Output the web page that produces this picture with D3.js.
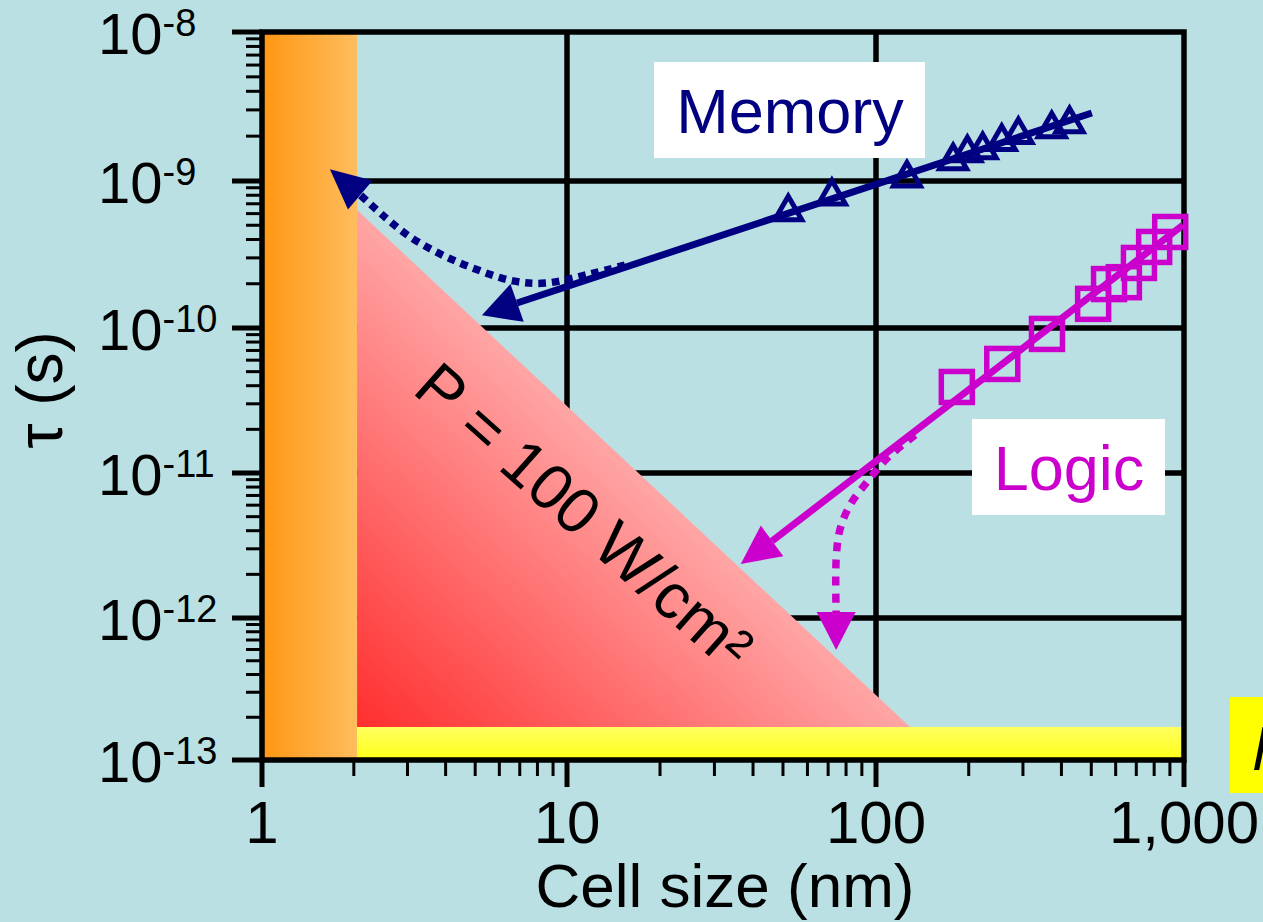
<!DOCTYPE html>
<html>
<head>
<meta charset="utf-8">
<script src="https://cdn.jsdelivr.net/npm/d3@7"></script>
<style>
  html, body { margin: 0; padding: 0; background: #bae0e3; overflow: hidden; }
  svg { display: block; }
  text { font-family: "Liberation Sans", Arial, sans-serif; }
</style>
</head>
<body>
<svg id="chart" width="1263" height="922"></svg>
<script>
// ---- Data: cell size (nm) versus switching time tau (s) ----
const memorySize = [52, 72, 126, 178, 198, 222, 256, 290, 372, 425];
const memoryTau  = [6.55e-10, 8.4e-10, 1.11e-9, 1.45e-9, 1.64e-9, 1.72e-9, 1.95e-9, 2.17e-9, 2.38e-9, 2.57e-9];

const logicSize = [183, 257, 359, 507, 571, 638, 714, 800, 902];
const logicTau  = [3.92e-11, 5.65e-11, 9.1e-11, 1.46e-10, 1.99e-10, 2.05e-10, 2.77e-10, 3.56e-10, 4.5e-10];

// Trend lines extrapolated downward (last two points: arrow base, arrow tip)
const memoryTrendSize = [502, 6.86, 5.26];
const memoryTrendTau  = [2.86e-9, 1.48e-10, 1.22e-10];
const logicTrendSize  = [993, 46.1, 36.5];
const logicTrendTau   = [5.02e-10, 3.4e-12, 2.36e-12];

// Alternative scaling paths (dotted)
const memoryPathSize = [15.4, 11.87, 8.47, 6.65, 4.81, 3.78, 3.06, 2.55, 2.10, 1.67];
const memoryPathTau  = [2.68e-10, 2.33e-10, 2.02e-10, 2.09e-10, 2.6e-10, 3.24e-10, 4.16e-10, 5.6e-10, 8.03e-10, 1.2e-9];
const logicPathSize  = [134, 109, 93.5, 82.4, 76.4, 74.3, 74.3, 74.3];
const logicPathTau   = [1.83e-11, 1.27e-11, 8.67e-12, 6.01e-12, 4.05e-12, 2.51e-12, 1.1e-12, 5.95e-13];

// Limits
const sizeLimitNm    = [1, 2.05];          // atomic size limit band
const thermalTau     = [1e-13, 1.71e-13];  // h/kT band
const powerLimitSize = [2.05, 129];        // P = 100 W/cm^2 edge
const powerLimitTau  = [6.35e-10, 1.71e-13];

// Axes
const xTickValues = [1, 10, 100, 1000];
const xTickLabels = ["1", "10", "100", "1,000"];
const yTickExponents = [-8, -9, -10, -11, -12, -13];

// ---- Scales ----
const X = d3.scaleLog().domain([1, 10, 100, 1000]).range([262, 567, 876, 1184]);
const Y = d3.scaleLog().domain([1e-13, 1e-12, 1e-11, 1e-10, 1e-9, 1e-8]).range([760, 618, 473, 328, 181, 32]);

const NAVY = "#000080", MAGENTA = "#cc00cc";
const svg = d3.select("#chart");

const defs = svg.append("defs");
const gOr = defs.append("linearGradient").attr("id", "gOrange").attr("x1", 0).attr("x2", 1).attr("y1", 0).attr("y2", 0);
gOr.append("stop").attr("offset", 0).attr("stop-color", "#ff9612");
gOr.append("stop").attr("offset", 1).attr("stop-color", "#ffbd5e");
const gYe = defs.append("linearGradient").attr("id", "gYellow").attr("x1", 0).attr("x2", 0).attr("y1", 0).attr("y2", 1);
gYe.append("stop").attr("offset", 0).attr("stop-color", "#ffff60");
gYe.append("stop").attr("offset", 1).attr("stop-color", "#ffff18");

svg.append("rect").attr("width", 1263).attr("height", 922).attr("fill", "#bae0e3");

const x0 = X(1), x1 = X(1000), y0 = Y(1e-13), y1 = Y(1e-8);

// Grid
const grid = svg.append("g").attr("stroke", "#000").attr("stroke-width", 5.5);
[1e-12, 1e-11, 1e-10, 1e-9].forEach(v =>
  grid.append("line").attr("x1", x0).attr("x2", x1).attr("y1", Y(v)).attr("y2", Y(v)));
[10, 100].forEach(v =>
  grid.append("line").attr("x1", X(v)).attr("x2", X(v)).attr("y1", y1).attr("y2", y0));

// Limit regions
svg.append("rect")
  .attr("x", X(sizeLimitNm[0])).attr("y", y1)
  .attr("width", X(sizeLimitNm[1]) - X(sizeLimitNm[0])).attr("height", y0 - y1)
  .attr("fill", "url(#gOrange)");

svg.append("rect")
  .attr("x", X(sizeLimitNm[1])).attr("y", Y(thermalTau[1]))
  .attr("width", x1 - X(sizeLimitNm[1])).attr("height", Y(thermalTau[0]) - Y(thermalTau[1]))
  .attr("fill", "url(#gYellow)");

const pA = [X(powerLimitSize[0]), Y(powerLimitTau[0])];
const pB = [X(powerLimitSize[1]), Y(powerLimitTau[1])];
const pC = [X(powerLimitSize[0]), Y(powerLimitTau[1])];
// gradient from the right-angle corner toward the hypotenuse
{
  const dx = pB[0] - pA[0], dy = pB[1] - pA[1], L = Math.hypot(dx, dy);
  const ux = dx / L, uy = dy / L;
  const t = (pC[0] - pA[0]) * ux + (pC[1] - pA[1]) * uy;
  const foot = [pA[0] + t * ux, pA[1] + t * uy];
  const gRed = defs.append("linearGradient").attr("id", "gRed").attr("gradientUnits", "userSpaceOnUse")
    .attr("x1", pC[0]).attr("y1", pC[1]).attr("x2", foot[0]).attr("y2", foot[1]);
  gRed.append("stop").attr("offset", 0).attr("stop-color", "#ff2e2e");
  gRed.append("stop").attr("offset", 1).attr("stop-color", "#ffa5a5");
}
svg.append("path").attr("d", d3.line()([pA, pB, pC])).attr("fill", "url(#gRed)");

// Power-density label along the hypotenuse
{
  const ang = Math.atan2(pB[1] - pA[1], pB[0] - pA[0]);
  const mx = (pA[0] + pB[0]) / 2, my = (pA[1] + pB[1]) / 2;
  const nx = -Math.sin(ang), ny = Math.cos(ang); // normal pointing into the triangle
  const off = 88;
  svg.append("text")
    .attr("transform", `translate(${mx + nx * off - 4},${my + ny * off})rotate(${ang * 180 / Math.PI - 1.5})`)
    .attr("text-anchor", "middle").attr("font-size", 64).attr("fill", "#000")
    .text("P = 100 W/cm\u00B2");
}

// Frame
svg.append("rect").attr("x", x0).attr("y", y1).attr("width", x1 - x0).attr("height", y0 - y1)
  .attr("fill", "none").attr("stroke", "#000").attr("stroke-width", 5.5);

// Y ticks
const ax = svg.append("g").attr("stroke", "#000");
for (let e = -13; e <= -8; e++) {
  ax.append("line").attr("x1", 232).attr("x2", x0).attr("y1", Y(10 ** e)).attr("y2", Y(10 ** e)).attr("stroke-width", 5);
  if (e < -8) for (let m = 2; m <= 9; m++) {
    const yy = Y(m * 10 ** e);
    ax.append("line").attr("x1", 246).attr("x2", x0).attr("y1", yy).attr("y2", yy).attr("stroke-width", 3);
  }
}
// X ticks
xTickValues.forEach((v, i) => {
  ax.append("line").attr("x1", X(v)).attr("x2", X(v)).attr("y1", y0).attr("y2", 787).attr("stroke-width", 5);
  if (i < xTickValues.length - 1) for (let m = 2; m <= 9; m++) {
    const xx = X(m * v);
    ax.append("line").attr("x1", xx).attr("x2", xx).attr("y1", y0).attr("y2", 776).attr("stroke-width", 3);
  }
});

// Tick labels
yTickExponents.forEach(e => {
  const t = svg.append("text").attr("x", 98).attr("y", Y(10 ** e) + 22).attr("font-size", 58).attr("fill", "#000");
  t.append("tspan").text("10");
  t.append("tspan").attr("dy", -18).attr("font-size", 38).text(String(e));
});
xTickValues.forEach((v, i) => {
  svg.append("text").attr("x", X(v)).attr("y", 843).attr("text-anchor", "middle")
    .attr("font-size", 60).attr("fill", "#000").text(xTickLabels[i]);
});

// Axis titles
svg.append("text").attr("x", 725).attr("y", 907).attr("text-anchor", "middle")
  .attr("font-size", 62).attr("fill", "#000").text("Cell size (nm)");
svg.append("text").attr("transform", "translate(62,390)rotate(-90)").attr("text-anchor", "middle")
  .attr("font-size", 64).attr("fill", "#000").text("\u03C4 (s)");

// Arrows: all points but the last form the shaft; last two define the head
function arrow(sizes, taus, color, opts) {
  const pts = sizes.map((s, i) => [X(s), Y(taus[i])]);
  const tip = pts[pts.length - 1], base = pts[pts.length - 2];
  const shaft = svg.append("path")
    .attr("d", d3.line().curve(opts.curve)(pts.slice(0, -1)))
    .attr("fill", "none").attr("stroke", color).attr("stroke-width", opts.width);
  if (opts.dash) shaft.attr("stroke-dasharray", opts.dash);
  const dx = tip[0] - base[0], dy = tip[1] - base[1], L = Math.hypot(dx, dy);
  const nx = -dy / L, ny = dx / L, hw = opts.head / 2;
  svg.append("path")
    .attr("d", d3.line()([tip, [base[0] + nx * hw, base[1] + ny * hw], [base[0] - nx * hw, base[1] - ny * hw]]) + "Z")
    .attr("fill", color);
}

arrow(memoryPathSize, memoryPathTau, NAVY, { curve: d3.curveCatmullRom, width: 7.5, dash: "7.5,6", head: 38 });
arrow(logicPathSize, logicPathTau, MAGENTA, { curve: d3.curveCatmullRom, width: 7.5, dash: "9,8", head: 39 });
arrow(memoryTrendSize, memoryTrendTau, NAVY, { curve: d3.curveLinear, width: 7, head: 40 });
arrow(logicTrendSize, logicTrendTau, MAGENTA, { curve: d3.curveLinear, width: 7, head: 38 });

// Markers
const bboxTriangle = {
  draw(ctx, size) {
    const s = Math.sqrt(size), h = s * 0.87;
    ctx.moveTo(0, -h / 2); ctx.lineTo(s / 2, h / 2); ctx.lineTo(-s / 2, h / 2); ctx.closePath();
  }
};
svg.append("g").selectAll("path").data(memorySize).join("path")
  .attr("transform", (d, i) => `translate(${X(d)},${Y(memoryTau[i])})`)
  .attr("d", d3.symbol(bboxTriangle, 27 * 27)())
  .attr("fill", "none").attr("stroke", NAVY).attr("stroke-width", 5);

svg.append("g").selectAll("rect").data(logicSize).join("rect")
  .attr("x", d => X(d) - 15.5).attr("y", (d, i) => Y(logicTau[i]) - 15.5)
  .attr("width", 31).attr("height", 31)
  .attr("fill", "none").attr("stroke", MAGENTA).attr("stroke-width", 5.5);

// Series labels
svg.append("rect").attr("x", 654).attr("y", 62).attr("width", 271).attr("height", 96).attr("fill", "#fff");
svg.append("text").attr("x", 790).attr("y", 133).attr("text-anchor", "middle")
  .attr("font-size", 63).attr("fill", NAVY).text("Memory");
svg.append("rect").attr("x", 972).attr("y", 419).attr("width", 193).attr("height", 96).attr("fill", "#fff");
svg.append("text").attr("x", 1069).attr("y", 490).attr("text-anchor", "middle")
  .attr("font-size", 63).attr("fill", MAGENTA).text("Logic");

// Thermal limit label (runs past the right edge)
svg.append("rect").attr("x", 1230).attr("y", 697).attr("width", 200).attr("height", 96).attr("fill", "#ffff00");
svg.append("text").attr("x", 1253).attr("y", 770).attr("font-size", 60).attr("font-style", "italic")
  .attr("fill", "#000").text("h/kT");
</script>
</body>
</html>
